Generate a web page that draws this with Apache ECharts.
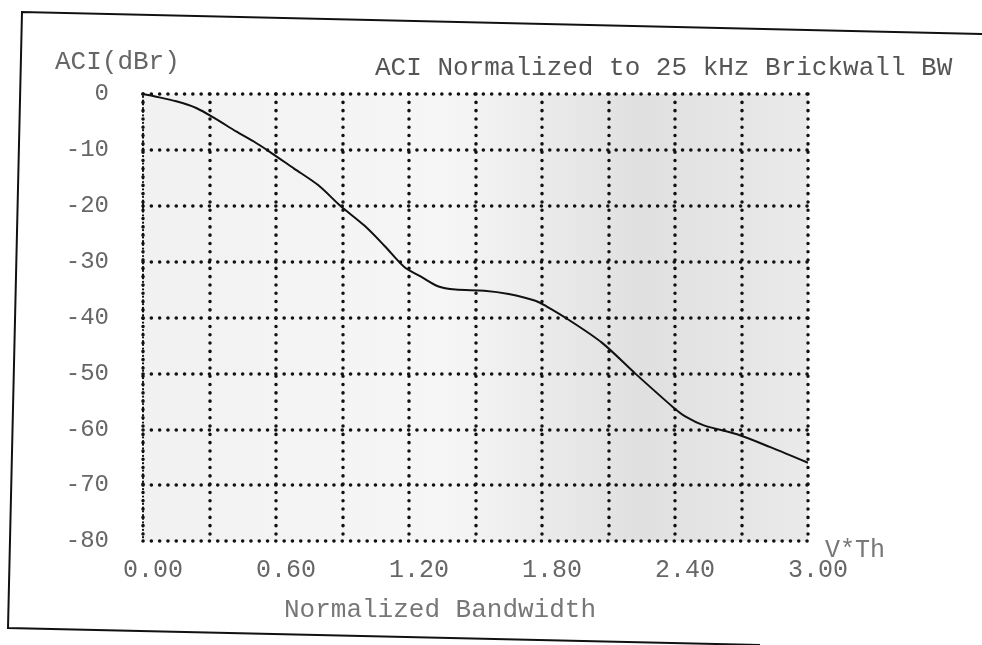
<!DOCTYPE html>
<html style="height: 100%">
<head>
<meta charset="utf-8">
<script src="https://cdn.jsdelivr.net/npm/echarts@6/dist/echarts.min.js"></script>
</head>
<body style="height: 100%; margin: 0; background: #fff">
<div id="container" style="width: 982px; height: 645px"></div>
<script type="text/javascript">
//------ data ------
var bandwidth = [0, 0.05, 0.15, 0.24, 0.33, 0.42, 0.50, 0.57, 0.68, 0.79, 0.89, 1.00, 1.09, 1.18, 1.25, 1.33, 1.41, 1.54, 1.65, 1.77, 1.82, 1.92, 2.07, 2.22, 2.39, 2.45, 2.53, 2.68, 2.83, 3.00];
var aciDb     = [0, -0.4, -1.3, -2.5, -4.5, -6.7, -8.5, -10.3, -13.3, -16.3, -20, -23.6, -27.2, -31, -32.6, -34.4, -35, -35.2, -35.8, -37, -38, -40.4, -44.5, -50, -56, -57.8, -59.3, -60.9, -63.2, -66];
var xTickLabels = ['0.00', '', '0.60', '', '1.20', '', '1.80', '', '2.40', '', '3.00'];
var yTickLabels = ['-80', '-70', '-60', '-50', '-40', '-30', '-20', '-10', '0'];
var chartTitle = 'ACI Normalized to 25 kHz Brickwall BW';
var yName = 'ACI(dBr)';
var xName = 'Normalized Bandwidth';
var xUnit = 'V*Th';

var dom = document.getElementById('container');
var myChart = echarts.init(dom);

var FONT = '"Liberation Mono", "DejaVu Sans Mono", monospace';
var dots = {color: '#111', width: 3.5, type: [0.1, 8.2], cap: 'round'};

var points = [];
for (var i = 0; i < bandwidth.length; i++) {
	points.push([bandwidth[i], aciDb[i]]);
}

var option = {
	backgroundColor: '#fff',
	animation: false,
	title: [
		{text: chartTitle, left: 370, top: 50,
			textStyle: {fontFamily: FONT, fontSize: 26, fontWeight: 'normal', color: '#555'}},
		{text: yName, left: 50, top: 44,
			textStyle: {fontFamily: FONT, fontSize: 26, fontWeight: 'normal', color: '#666'}}
	],
	grid: {
		left: 143, right: 174, top: 94, bottom: 104,
		show: true, borderWidth: 0,
		backgroundColor: {
			type: 'linear', x: 0, y: 0, x2: 1, y2: 0,
			colorStops: [
				{offset: 0, color: '#f1f1f1'},
				{offset: 0.45, color: '#f6f6f6'},
				{offset: 0.75, color: '#e0e0e0'},
				{offset: 1, color: '#eaeaea'}
			]
		}
	},
	xAxis: {
		type: 'value', min: 0, max: 3, interval: 0.3,
		name: xName, nameLocation: 'middle', nameGap: 56,
		nameTextStyle: {fontFamily: FONT, fontSize: 26, color: '#777', padding: [0, 71, 0, 0]},
		axisLine: {show: false},
		axisTick: {show: false},
		splitLine: {show: true, lineStyle: dots},
		axisLabel: {
			fontFamily: FONT, fontSize: 25, color: '#666', margin: 17, padding: [0, 0, 0, 20],
			formatter: function (v, idx) { return xTickLabels[idx] || ''; }
		}
	},
	yAxis: {
		type: 'value', min: -80, max: 0, interval: 10,
		axisLine: {show: true, lineStyle: {color: '#111', width: 2.2, type: [0.1, 3.6], cap: 'round'}},
		axisTick: {show: false},
		splitLine: {show: true, lineStyle: dots},
		axisLabel: {
			fontFamily: FONT, fontSize: 24, color: '#666', margin: 34,
			formatter: function (v, idx) { return yTickLabels[idx]; }
		}
	},
	graphic: [
		{type: 'text', left: 825, top: 538,
			style: {text: xUnit, font: '25px ' + FONT, fill: '#777'}},
		// scanned page frame
		{type: 'polyline', silent: true,
			shape: {points: [[982, 34], [22, 12], [8, 628], [760, 645]]},
			style: {stroke: '#111', lineWidth: 2, fill: null}}
	],
	series: [{
		type: 'line',
		data: points,
		showSymbol: false,
		smooth: 0.3,
		lineStyle: {color: '#111', width: 2}
	}]
};

myChart.setOption(option);
</script>
</body>
</html>
